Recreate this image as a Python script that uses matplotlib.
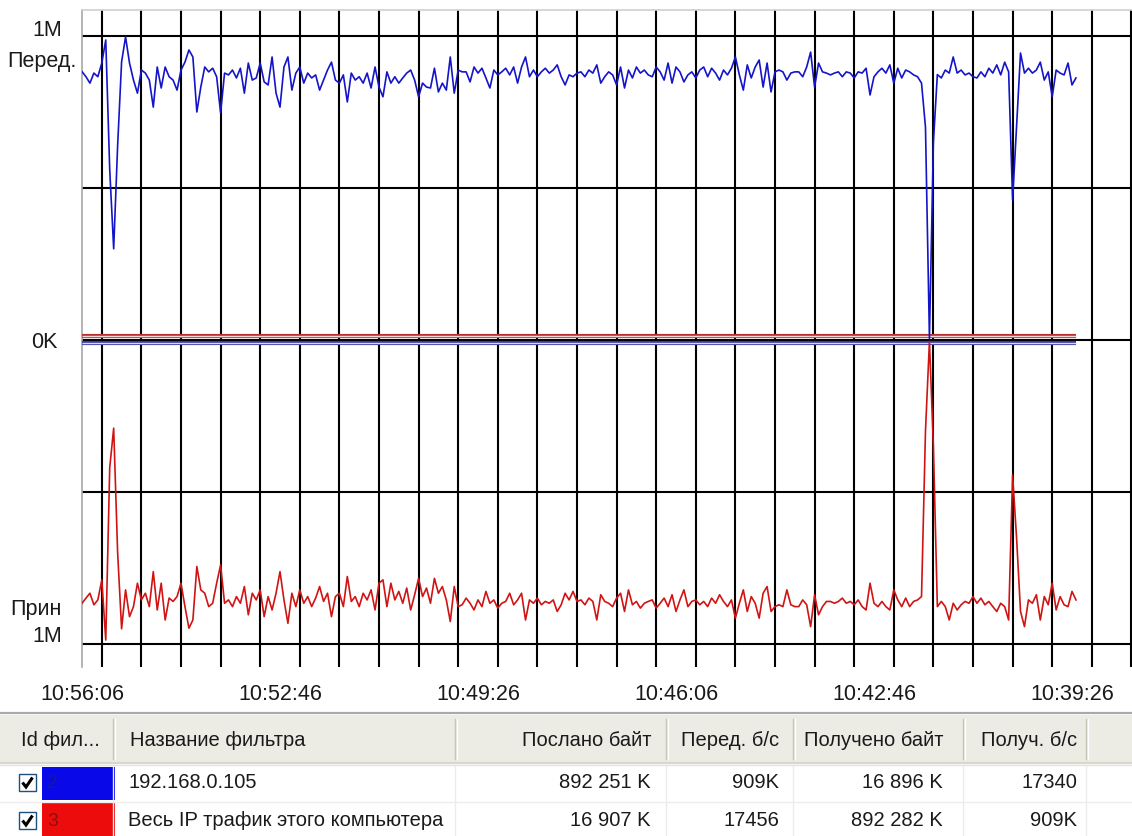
import numpy as np
import matplotlib
matplotlib.use('Agg')
import matplotlib.pyplot as plt
from matplotlib.patches import Rectangle

FONT = ['Liberation Sans', 'DejaVu Sans']
plt.rcParams['font.family'] = FONT

# ---------------- data ----------------
sample_step_s = 4          # seconds between samples
grid_step_s = 40           # seconds between vertical grid lines
label_step_s = 200         # seconds between time labels
time_labels = ['10:56:06', '10:52:46', '10:49:26', '10:46:06', '10:42:46', '10:39:26']

# 192.168.0.105 - sent (K bytes/s), plotted upward
blue_sent_k = [
    883, 866, 845, 878, 866, 911, 987, 560, 300, 640,
    915, 997, 911, 855, 812, 888, 878, 855, 766, 898,
    829, 898, 866, 855, 822, 888, 914, 954, 931, 750,
    832, 898, 882, 894, 866, 747, 878, 872, 888, 862,
    894, 812, 911, 855, 862, 911, 849, 839, 931, 812,
    766, 898, 931, 822, 878, 898, 845, 878, 862, 872,
    822, 855, 888, 914, 855, 845, 872, 783, 878, 855,
    866, 845, 878, 829, 898, 832, 800, 882, 845, 866,
    845, 862, 878, 888, 855, 800, 845, 832, 829, 894,
    816, 845, 822, 931, 812, 888, 882, 882, 849, 898,
    878, 894, 862, 829, 888, 872, 882, 894, 872, 898,
    845, 898, 931, 866, 888, 866, 882, 894, 878, 888,
    905, 866, 839, 872, 866, 878, 882, 866, 888, 878,
    905, 845, 866, 882, 872, 839, 898, 829, 888, 862,
    898, 878, 888, 872, 866, 898, 882, 855, 911, 845,
    898, 882, 849, 872, 882, 862, 888, 898, 866, 894,
    878, 855, 888, 872, 894, 931, 872, 822, 905, 862,
    898, 921, 832, 911, 816, 882, 888, 882, 855, 878,
    882, 882, 866, 898, 947, 832, 911, 882, 878, 872,
    878, 882, 866, 882, 878, 862, 882, 878, 894, 806,
    866, 882, 894, 878, 905, 845, 894, 862, 888, 882,
    872, 866, 845, 700, 5, 650, 873, 862, 888, 878,
    931, 878, 888, 872, 878, 866, 862, 882, 866, 894,
    878, 905, 872, 914, 882, 460, 700, 944, 878, 894,
    878, 888, 914, 855, 882, 800, 888, 878, 872, 911,
    839, 862,
]

# Весь IP трафик - received (K bytes/s), plotted downward
red_recv_k = [
    -866, -849, -833, -871, -855, -789, -987, -420, -290, -700,
    -950, -822, -910, -877, -800, -855, -833, -877, -762, -888,
    -800, -921, -849, -860, -844, -800, -877, -948, -921, -745,
    -822, -833, -877, -866, -800, -740, -866, -855, -877, -844,
    -866, -811, -904, -833, -855, -822, -910, -844, -888, -833,
    -762, -855, -932, -833, -877, -822, -866, -844, -877, -849,
    -811, -860, -833, -910, -844, -833, -877, -778, -860, -844,
    -877, -833, -855, -822, -888, -800, -789, -877, -800, -855,
    -827, -866, -816, -888, -838, -784, -844, -816, -866, -784,
    -833, -811, -855, -926, -811, -877, -871, -849, -866, -888,
    -855, -877, -827, -866, -855, -882, -866, -860, -833, -871,
    -855, -833, -921, -855, -866, -849, -871, -860, -866, -855,
    -893, -871, -833, -855, -827, -860, -855, -871, -849, -860,
    -921, -838, -860, -866, -877, -849, -833, -893, -822, -871,
    -860, -882, -866, -860, -855, -882, -866, -849, -877, -838,
    -893, -855, -822, -877, -860, -855, -871, -860, -877, -849,
    -866, -838, -860, -877, -855, -915, -866, -822, -893, -844,
    -866, -915, -833, -811, -893, -877, -871, -877, -822, -871,
    -877, -877, -855, -871, -943, -838, -904, -877, -860, -860,
    -866, -860, -849, -866, -860, -871, -855, -877, -888, -800,
    -866, -877, -860, -877, -888, -822, -855, -877, -849, -877,
    -860, -855, -844, -300, -5, -350, -877, -860, -877, -921,
    -866, -888, -871, -860, -866, -844, -866, -849, -871, -860,
    -877, -893, -866, -877, -921, -444, -650, -893, -943, -855,
    -866, -838, -921, -844, -871, -800, -888, -844, -871, -877,
    -827, -855,
]

# the small opposite-direction traffic of each filter (K bytes/s)
red_sent_small_k = [14, 14]
blue_recv_small_k = [-11, -11]

table_headers = ['Id фил...', 'Название фильтра', 'Послано байт',
                 'Перед. б/с', 'Получено байт', 'Получ. б/с']
table_rows = [
    ['2', '192.168.0.105', '892 251 K', '909K', '16 896 K', '17340'],
    ['3', 'Весь IP трафик этого компьютера', '16 907 K', '17456', '892 282 K', '909K'],
]
row_colors = ['#0808e8', '#ec0c0c']
row_id_colors = ['#1a1a90', '#8a1010']

# ---------------- figure ----------------
W, H = 1132, 836
fig = plt.figure(figsize=(W / 100, H / 100), dpi=100)
fig.patch.set_facecolor('white')

bg = fig.add_axes([0, 0, 1, 1])
bg.set_xlim(0, W)
bg.set_ylim(H, 0)
bg.axis('off')

# chart axes (pixel box 82..1132 x 10..667)
ax = fig.add_axes([82 / W, 1 - 667 / H, 1050 / W, 657 / H])
px_per_grid = 39.6
sec_per_px = grid_step_s / px_per_grid
ax.set_xlim(0, 1050 * sec_per_px)
ax.set_ylim(-(667 - 340) / 0.304, (340 - 10) / 0.304)

t_blue = np.arange(len(blue_sent_k)) * sample_step_s
t_red = np.arange(len(red_recv_k)) * sample_step_s
t_small = [t_blue[0], t_blue[-1]]

# grid
ax.set_xticks(np.arange(grid_step_s / 2, 1050 * sec_per_px + 1, grid_step_s), minor=True)
ax.set_xticks(np.arange(len(time_labels)) * label_step_s)
ax.set_xticklabels(time_labels, fontsize=15.5, color='#1a1a1a')
ax.set_yticks([-1000, -500, 0, 500, 1000])
ax.set_yticklabels([])
ax.grid(which='minor', axis='x', color='black', lw=1.5, zorder=1)
ax.grid(which='major', axis='y', color='black', lw=1.5, zorder=1)
ax.grid(which='major', axis='x', visible=False)
ax.tick_params(axis='both', which='both', length=0)
ax.tick_params(axis='x', pad=12)
ax.set_axisbelow(True)

for s in ['right', 'bottom']:
    ax.spines[s].set_visible(False)
ax.spines['left'].set_color('#a8a8a8')
ax.spines['left'].set_linewidth(1.2)
ax.spines['top'].set_color('#cfcfcf')
ax.spines['top'].set_linewidth(1.2)

# near-zero double lines
ax.plot(t_small, red_sent_small_k, color='#b83030', lw=3.0, zorder=3, solid_capstyle='butt')
ax.plot(t_small, red_sent_small_k, color='#f6d6d6', lw=1.0, zorder=3.1, solid_capstyle='butt')
ax.plot(t_small, blue_recv_small_k, color='#3a3aa0', lw=3.0, zorder=3, solid_capstyle='butt')
ax.plot(t_small, blue_recv_small_k, color='#d6d6f6', lw=1.0, zorder=3.1, solid_capstyle='butt')

# main traffic lines
ax.plot(t_blue, blue_sent_k, color='#1414c8', lw=1.2, zorder=4)
ax.plot(t_red, red_recv_k, color='#d01414', lw=1.2, zorder=4)

# y labels
lab = dict(fontsize=15.5, color='#1a1a1a', va='center')
bg.text(62, 30, '1M', ha='right', **lab)
bg.text(77, 62, 'Перед.', ha='right', **lab)
bg.text(58, 342, '0K', ha='right', **lab)
bg.text(62, 609, 'Прин', ha='right', **lab)
bg.text(62, 636, '1M', ha='right', **lab)

# ---------------- table ----------------
bg.plot([0, W], [713, 713], color='#a9a9a9', lw=1.6)
bg.add_patch(Rectangle((0, 714.5), W, 49, fc='#ecebe4', ec='none'))
bg.plot([0, W], [763, 763], color='#d9d6ca', lw=1.6)
bg.plot([0, W], [765, 765], color='#e6e4da', lw=1.0)

sep_x = [113, 455, 666, 793, 963, 1086]
for x in sep_x:
    bg.plot([x, x], [719, 759], color='#c8c5b6', lw=1.0)
    bg.plot([x + 1.5, x + 1.5], [719, 759], color='white', lw=1.0)
    bg.plot([x, x], [766, H], color='#ececec', lw=1.0)
bg.plot([0, W], [802, 802], color='#ececec', lw=1.0)

tfont = dict(fontsize=14.5, color='#1a1a1a', va='center')
left_x = [21, 130]
right_x = [651, 779, 943, 1077]
hy = 741
bg.text(left_x[0], hy, table_headers[0], ha='left', **tfont)
bg.text(left_x[1], hy, table_headers[1], ha='left', **tfont)
for i, x in enumerate(right_x):
    bg.text(x, hy, table_headers[2 + i], ha='right', **tfont)

row_y = [783, 821]
row_top = [767, 802]
row_h = [33, 34]
for r, row in enumerate(table_rows):
    y = row_y[r]
    # checkbox
    bg.add_patch(Rectangle((19, y - 9), 17, 17, fc='white', ec='#1c5180', lw=1.0))
    bg.plot([22.5, 26, 32.5], [y - 0.5, y + 4, y - 5.5], color='black', lw=2.2,
            solid_capstyle='butt', solid_joinstyle='miter')
    # colour swatch
    bg.add_patch(Rectangle((42, row_top[r]), 73, row_h[r], fc=row_colors[r], ec='none'))
    bg.text(47, y, row[0], ha='left', fontsize=14, color=row_id_colors[r], va='center')
    bg.text(128, y, row[1], ha='left', **tfont)
    for i, x in enumerate(right_x):
        bg.text(x, y, row[2 + i], ha='right', **tfont)

fig.savefig('out.png', dpi=100, facecolor='white')
